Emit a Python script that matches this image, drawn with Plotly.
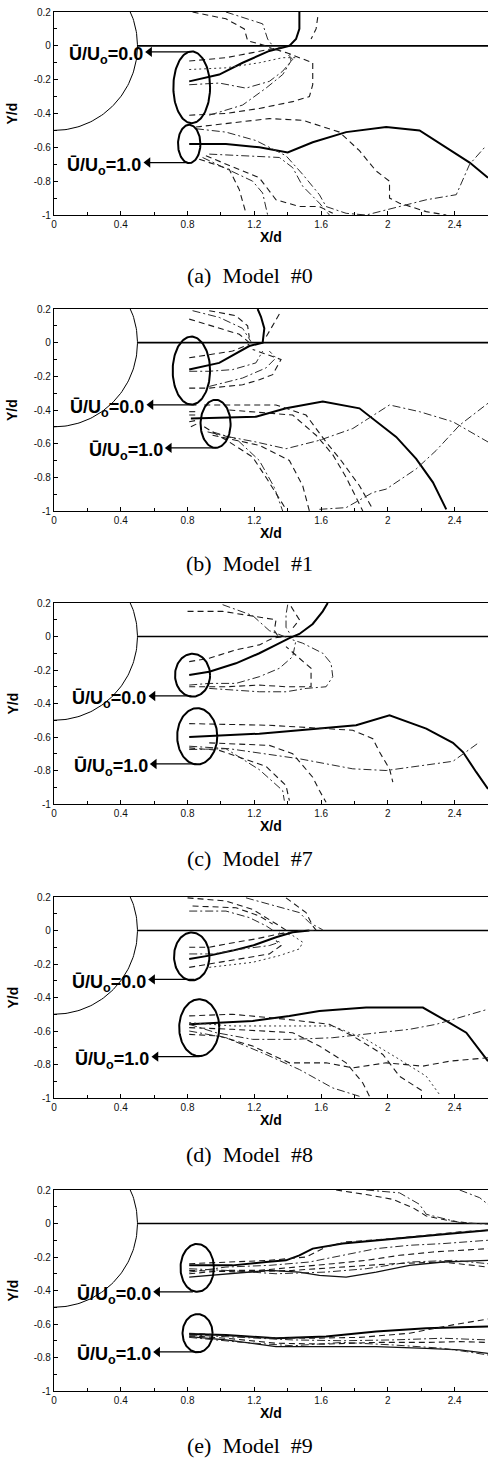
import numpy as np
import plotly.graph_objects as go

# ---------------- tick labels / captions ----------------
X_TICKS = [0, 0.4, 0.8, 1.2, 1.6, 2, 2.4]
X_TICK_LABELS = ["0", "0.4", "0.8", "1.2", "1.6", "2", "2.4"]
X_MINOR = [0.2, 0.6, 1.0, 1.4, 1.8, 2.2]
Y_TICKS = [-1, -0.8, -0.6, -0.4, -0.2, 0, 0.2]
Y_TICK_LABELS = ["-1", "-0.8", "-0.6", "-0.4", "-0.2", "0", "0.2"]
Y_MINOR = [-0.9, -0.7, -0.5, -0.3, -0.1, 0.1]
CAPTIONS = ["(a)\u00a0\u00a0Model\u00a0\u00a0#0", "(b)\u00a0\u00a0Model\u00a0\u00a0#1",
            "(c)\u00a0\u00a0Model\u00a0\u00a0#7", "(d)\u00a0\u00a0Model\u00a0\u00a0#8",
            "(e)\u00a0\u00a0Model\u00a0\u00a0#9"]
LABEL0 = "<b>\u016a/U<sub>o</sub>=0.0</b>"
LABEL1 = "<b>\u016a/U<sub>o</sub>=1.0</b>"

# cylinder radius / plate
CYL_R = 0.5
PLATE_X = [0.5, 2.6]

# ---------------- ellipse markers (centre, half-width, half-height) ----------------
E0_CX = [0.825, 0.823, 0.83, 0.825, 0.858]
E0_CY = [-0.245, -0.166, -0.231, -0.155, -0.265]
E0_HW = [0.11, 0.112, 0.105, 0.106, 0.10]
E0_HH = [0.212, 0.202, 0.128, 0.143, 0.143]
E1_CX = [0.81, 0.968, 0.858, 0.87, 0.86]
E1_CY = [-0.58, -0.482, -0.596, -0.58, -0.655]
E1_HW = [0.067, 0.09, 0.12, 0.12, 0.09]
E1_HH = [0.113, 0.143, 0.168, 0.17, 0.114]

# ---------------- arrows ----------------
ARROW0_Y = [-0.036, -0.369, -0.355, -0.292, -0.408]
ARROW0_TAIL = [0.81, 0.853, 0.823, 0.842, 0.832]
ARROW0_HEAD = [0.545, 0.553, 0.565, 0.563, 0.593]
ARROW1_Y = [-0.69, -0.625, -0.761, -0.753, -0.767]
ARROW1_TAIL = [0.80, 0.972, 0.853, 0.872, 0.872]
ARROW1_HEAD = [0.535, 0.663, 0.573, 0.583, 0.593]

# ---------------- streaklines, panel (a) Model #0 ----------------
A_X = [
    [0.81, 0.99, 1.13, 1.29, 1.41, 1.45, 1.47, 1.47],
    [0.81, 1.03, 1.23, 1.43, 1.53, 1.55, 1.55, 1.47, 1.39, 1.29],
    [0.81, 0.93, 1.03, 1.19, 1.29, 1.37],
    [0.81, 0.99, 1.15, 1.29, 1.37, 1.43, 1.39],
    [0.93, 1.13, 1.27, 1.37, 1.42, 1.41],
    [0.83, 1.03, 1.14, 1.16, 1.27],
    [1.03, 1.25, 1.28, 1.31],
    [1.58, 1.57, 1.54],
    [0.81, 1.03, 1.23, 1.37, 1.45],
    [0.81, 1.03, 1.23, 1.40, 1.55, 1.75, 1.99, 2.19, 2.49, 2.60],
    [0.85, 1.13, 1.29, 1.49, 1.71, 1.83, 1.93, 2.01, 2.01, 2.07, 2.23, 2.35],
    [0.85, 1.03, 1.21, 1.39, 1.49, 1.59, 1.63, 1.75, 1.87, 2.03, 2.23, 2.41, 2.49, 2.58],
    [0.87, 1.05, 1.11, 1.15],
    [0.89, 1.19, 1.25, 1.28],
    [0.91, 1.23, 1.33, 1.47, 1.59, 1.67],
    [0.93, 1.35, 1.43, 1.49, 1.59, 1.65],
]
A_Y = [
    [-0.21, -0.17, -0.10, -0.03, 0.0, 0.04, 0.10, 0.20],
    [-0.41, -0.40, -0.37, -0.33, -0.30, -0.23, -0.10, -0.07, -0.04, -0.01],
    [-0.09, -0.08, -0.07, -0.04, -0.02, -0.01],
    [-0.23, -0.22, -0.25, -0.21, -0.15, -0.08, -0.04],
    [-0.41, -0.35, -0.25, -0.17, -0.09, -0.03],
    [0.20, 0.16, 0.10, 0.03, 0.0],
    [0.20, 0.13, 0.04, 0.0],
    [0.17, 0.10, 0.04],
    [-0.14, -0.13, -0.10, -0.07, -0.07],
    [-0.58, -0.58, -0.60, -0.63, -0.57, -0.51, -0.48, -0.50, -0.69, -0.78],
    [-0.48, -0.45, -0.43, -0.44, -0.51, -0.62, -0.74, -0.80, -0.90, -0.93, -0.98, -1.0],
    [-0.49, -0.51, -0.56, -0.65, -0.76, -0.88, -0.95, -0.99, -1.0, -0.96, -0.91, -0.88, -0.70, -0.60],
    [-0.67, -0.73, -0.85, -0.99],
    [-0.66, -0.80, -0.87, -1.0],
    [-0.65, -0.78, -0.91, -0.95, -0.95, -0.99],
    [-0.64, -0.66, -0.72, -0.83, -0.93, -1.0],
]
A_KIND = ["solid", "dash", "dash", "dashdot", "dashdot", "dash", "dashdot", "dash", "dot",
          "solid", "dash", "dashdot", "dash", "dashdot", "dash", "dashdot"]

# ---------------- panel (b) Model #1 ----------------
B_X = [
    [0.81, 0.99, 1.17, 1.25, 1.26, 1.24, 1.22],
    [0.81, 0.93, 1.07, 1.21, 1.25],
    [0.81, 0.93, 1.13, 1.23, 1.31, 1.36, 1.19],
    [0.81, 0.93, 1.07, 1.17],
    [0.93, 1.13, 1.27, 1.33, 1.29],
    [0.81, 0.95, 1.11, 1.17],
    [0.83, 0.99, 1.13, 1.18],
    [1.35, 1.30, 1.26],
    [0.93, 1.09, 1.16, 1.17],
    [0.82, 1.21, 1.39, 1.61, 1.83, 1.91, 2.05, 2.17, 2.27, 2.35],
    [0.90, 1.03, 1.33, 1.51, 1.63, 1.72, 1.83, 1.91],
    [0.95, 1.05, 1.21, 1.39, 1.59, 1.79, 2.01, 2.19, 2.39, 2.60],
    [1.59, 1.75, 1.91, 1.99, 2.17, 2.29, 2.43, 2.60],
    [0.90, 1.05, 1.19, 1.27, 1.39],
    [0.92, 1.09, 1.23, 1.32, 1.37],
    [0.95, 1.23, 1.41, 1.49, 1.53],
    [1.05, 1.43, 1.57, 1.67, 1.75, 1.81, 1.85],
    [0.81, 0.86, None, 0.81, 0.87, None, 0.81, 0.86, None, 0.82, 0.86],
]
B_Y = [
    [-0.16, -0.12, -0.02, 0.0, 0.085, 0.154, 0.20],
    [-0.17, -0.17, -0.16, -0.12, -0.05],
    [-0.27, -0.27, -0.25, -0.22, -0.19, -0.10, -0.04],
    [-0.09, -0.07, -0.05, -0.01],
    [-0.26, -0.21, -0.15, -0.09, -0.05],
    [0.14, 0.10, 0.05, 0.0],
    [0.19, 0.15, 0.085, 0.006],
    [0.17, 0.085, 0.016],
    [0.19, 0.16, 0.10, 0.03],
    [-0.45, -0.44, -0.39, -0.35, -0.39, -0.45, -0.56, -0.69, -0.83, -0.99],
    [-0.37, -0.37, -0.37, -0.43, -0.59, -0.70, -0.85, -0.99],
    [-0.53, -0.56, -0.59, -0.63, -0.58, -0.51, -0.37, -0.41, -0.47, -0.59],
    [-0.99, -0.98, -0.89, -0.87, -0.75, -0.64, -0.49, -0.36],
    [-0.50, -0.59, -0.68, -0.80, -0.99],
    [-0.53, -0.57, -0.70, -0.86, -1.0],
    [-0.55, -0.61, -0.70, -0.85, -1.0],
    [-0.40, -0.43, -0.55, -0.665, -0.80, -0.92, -1.0],
    [-0.41, -0.41, None, -0.43, -0.43, None, -0.47, -0.46, None, -0.50, -0.48],
]
B_KIND = ["solid", "dashdot", "dash", "dash", "dashdot", "dash", "dashdot", "dash", "dash",
          "solid", "dash", "dashdot", "dashdot", "dash", "dashdot", "dash", "dash", "dash"]

# ---------------- panel (c) Model #7 ----------------
C_X = [
    [0.81, 0.93, 1.09, 1.23, 1.33, 1.41, 1.47, 1.55, 1.61, 1.64],
    [0.81, 0.93, 1.09, 1.23, 1.31, 1.39],
    [0.81, 0.93, 1.09, 1.23, 1.35, 1.43, 1.45],
    [0.81, 1.03, 1.23, 1.39, 1.54, 1.54, 1.47, 1.39],
    [0.93, 1.23, 1.39, 1.51, 1.63, 1.67, 1.66, 1.61, 1.49, 1.43],
    [0.80, 1.01, 1.33, 1.32, 1.34],
    [1.01, 1.19, 1.29, 1.39],
    [1.42, 1.47, 1.43],
    [1.40, 1.39, 1.39, 1.42],
    [0.81, 1.23, 1.59, 1.81, 2.01, 2.23, 2.39, 2.45, 2.53, 2.60],
    [0.81, 1.29, 1.63, 1.79, 1.91, 1.95, 2.01, 2.03],
    [0.81, 1.05, 1.47, 1.79, 1.99, 2.17, 2.39, 2.55],
    [0.81, 0.99, 1.27, 1.39, 1.41],
    [0.81, 1.03, 1.23, 1.37, 1.38],
    [0.93, 1.29, 1.43, 1.55, 1.59, 1.63],
]
C_Y = [
    [-0.23, -0.21, -0.16, -0.10, -0.05, -0.01, 0.015, 0.075, 0.15, 0.20],
    [-0.15, -0.13, -0.08, -0.05, -0.01, 0.0],
    [-0.29, -0.28, -0.28, -0.24, -0.19, -0.12, -0.02],
    [-0.30, -0.30, -0.29, -0.30, -0.30, -0.19, -0.13, -0.06],
    [-0.31, -0.33, -0.33, -0.31, -0.30, -0.24, -0.16, -0.10, -0.04, -0.02],
    [0.15, 0.15, 0.10, 0.035, 0.006],
    [0.19, 0.125, 0.035, -0.004],
    [0.18, 0.10, 0.05],
    [0.19, 0.13, 0.055, 0.006],
    [-0.60, -0.58, -0.55, -0.53, -0.47, -0.55, -0.635, -0.69, -0.81, -0.91],
    [-0.52, -0.53, -0.55, -0.56, -0.61, -0.69, -0.79, -0.87],
    [-0.655, -0.67, -0.73, -0.79, -0.80, -0.775, -0.745, -0.63],
    [-0.665, -0.68, -0.775, -0.89, -0.98],
    [-0.675, -0.67, -0.795, -0.92, -0.98],
    [-0.635, -0.65, -0.70, -0.84, -0.92, -0.99],
]
C_KIND = ["solid", "dash", "dashdot", "dash", "dashdot", "dash", "dashdot", "dash", "dashdot",
          "solid", "dash", "dashdot", "dash", "dashdot", "dash"]

# ---------------- panel (d) Model #8 ----------------
D_X = [
    [0.81, 0.93, 1.07, 1.19, 1.33, 1.43, 1.53],
    [0.81, 0.93, 1.09, 1.21, 1.35, 1.47, 1.57],
    [0.81, 0.95, 1.13, 1.29, 1.35, 1.33],
    [0.81, 0.93, 1.13, 1.29, 1.36, 1.33],
    [0.93, 1.19, 1.35, 1.47, 1.49, 1.43, 1.35],
    [0.80, 1.03, 1.19, 1.29, 1.35, 1.39],
    [0.81, 1.03, 1.17, 1.27, 1.31],
    [1.15, 1.33, 1.47, 1.53, 1.61],
    [1.39, 1.51, 1.55, 1.57],
    [0.83, 1.09, 1.23, 1.31],
    [0.81, 1.19, 1.41, 1.59, 1.87, 2.21, 2.35, 2.47, 2.60],
    [0.81, 1.07, 1.39, 1.65, 1.79, 1.97, 2.07, 2.21],
    [0.81, 0.97, 1.19, 1.43, 1.67, 1.87, 2.13, 2.29, 2.60],
    [0.81, 0.99, 1.19, 1.41, 1.63, 1.79, 1.99, 2.21, 2.37, 2.60],
    [0.81, 1.03, 1.27, 1.47, 1.67, 1.83],
    [0.81, 1.07, 1.43, 1.59, 1.75, 1.85, 1.89],
    [0.81, 1.07, 1.67, 1.87, 2.07, 2.23, 2.31],
]
D_Y = [
    [-0.17, -0.15, -0.12, -0.09, -0.04, -0.01, 0.0],
    [-0.10, -0.10, -0.07, -0.05, -0.02, 0.0, 0.0],
    [-0.14, -0.14, -0.11, -0.09, -0.07, -0.05],
    [-0.22, -0.20, -0.17, -0.14, -0.09, -0.06],
    [-0.22, -0.19, -0.15, -0.11, -0.07, -0.03, -0.01],
    [0.195, 0.176, 0.126, 0.067, 0.028, 0.002],
    [0.116, 0.116, 0.077, 0.028, 0.002],
    [0.195, 0.146, 0.107, 0.047, 0.004],
    [0.195, 0.107, 0.028, 0.002],
    [0.146, 0.136, 0.087, 0.038],
    [-0.56, -0.54, -0.51, -0.48, -0.46, -0.46, -0.54, -0.61, -0.78],
    [-0.51, -0.50, -0.53, -0.56, -0.63, -0.74, -0.87, -0.96],
    [-0.56, -0.61, -0.65, -0.65, -0.64, -0.62, -0.59, -0.56, -0.47],
    [-0.62, -0.63, -0.69, -0.79, -0.79, -0.82, -0.79, -0.81, -0.78, -0.76],
    [-0.60, -0.64, -0.74, -0.83, -0.94, -0.99],
    [-0.58, -0.59, -0.61, -0.69, -0.79, -0.91, -0.99],
    [-0.55, -0.57, -0.57, -0.65, -0.77, -0.87, -0.98],
]
D_KIND = ["solid", "dash", "dashdot", "dash", "dot", "dash", "dashdot", "dashdot", "dash", "dash",
          "solid", "dash", "dashdot", "dash", "dashdot", "dash", "dot"]

# ---------------- panel (e) Model #9 ----------------
E_X = [
    [0.81, 1.07, 1.27, 1.39, 1.47, 1.55, 1.73, 2.03, 2.27, 2.60],
    [0.81, 1.03, 1.29, 1.51, 1.63, 1.75, 2.03, 2.23, 2.43, 2.60],
    [0.81, 1.03, 1.29, 1.53, 1.73, 1.93, 2.13, 2.33, 2.60],
    [0.81, 1.03, 1.23, 1.47, 1.67, 1.87, 2.07, 2.27, 2.60],
    [0.81, 1.03, 1.29, 1.47, 1.59, 1.75, 1.93, 2.13, 2.33, 2.60],
    [0.81, 1.03, 1.33, 1.63, 1.87, 2.13, 2.39, 2.60],
    [0.81, 1.13, 1.43, 1.73, 2.03, 2.33, 2.60],
    [1.69, 1.87, 2.03, 2.15, 2.23, 2.37, 2.51, 2.60],
    [1.87, 2.07, 2.19, 2.23, 2.43, 2.60],
    [2.43, 2.55, 2.60],
    [0.81, 1.03, 1.33, 1.63, 1.93, 2.23, 2.43, 2.60],
    [0.81, 1.03, 1.23, 1.53, 1.83, 2.13, 2.39, 2.60],
    [0.81, 1.13, 1.43, 1.73, 2.03, 2.33, 2.60],
    [0.81, 1.03, 1.33, 1.63, 1.93, 2.23, 2.43, 2.60],
    [0.81, 1.03, 1.33, 1.63, 1.93, 2.23, 2.43, 2.60],
    [0.81, 1.13, 1.43, 1.73, 2.03, 2.33, 2.47, 2.60],
]
E_Y = [
    [-0.25, -0.25, -0.23, -0.22, -0.19, -0.15, -0.12, -0.09, -0.07, -0.04],
    [-0.24, -0.23, -0.22, -0.20, -0.14, -0.11, -0.09, -0.07, -0.05, -0.04],
    [-0.29, -0.26, -0.25, -0.23, -0.19, -0.15, -0.13, -0.12, -0.10],
    [-0.30, -0.28, -0.28, -0.26, -0.24, -0.22, -0.19, -0.17, -0.15],
    [-0.32, -0.30, -0.28, -0.29, -0.31, -0.32, -0.29, -0.25, -0.23, -0.22],
    [-0.27, -0.28, -0.30, -0.29, -0.27, -0.23, -0.22, -0.24],
    [-0.28, -0.29, -0.28, -0.26, -0.24, -0.23, -0.26],
    [0.20, 0.173, 0.144, 0.094, 0.045, 0.016, 0.0, 0.0],
    [0.20, 0.183, 0.114, 0.055, 0.006, -0.004],
    [0.20, 0.154, 0.114],
    [-0.66, -0.665, -0.685, -0.675, -0.645, -0.625, -0.62, -0.615],
    [-0.655, -0.67, -0.68, -0.685, -0.68, -0.655, -0.605, -0.57],
    [-0.665, -0.68, -0.695, -0.70, -0.695, -0.685, -0.695],
    [-0.67, -0.685, -0.715, -0.72, -0.71, -0.71, -0.705, -0.71],
    [-0.675, -0.695, -0.735, -0.735, -0.735, -0.745, -0.755, -0.775],
    [-0.68, -0.71, -0.73, -0.71, -0.725, -0.745, -0.765, -0.785],
]
E_KIND = ["solid", "dash", "dashdot", "dash", "thin", "dashdot", "dash", "dash", "dashdot", "dashdot",
          "solid", "dash", "dashdot", "dash", "thin", "dashdot"]

PANELS = [(A_X, A_Y, A_KIND), (B_X, B_Y, B_KIND), (C_X, C_Y, C_KIND),
          (D_X, D_Y, D_KIND), (E_X, E_Y, E_KIND)]

# ---------------- styling / layout ----------------
W, H = 488, 1458
PLOT_LEFT = 54
PLOT_TOP_PX = [12, 309, 603, 897, 1190]
PLOT_BOT_PX = [215, 511, 804, 1098, 1391]
CAPTION_PX = [275, 563, 858, 1154, 1445]

STYLE = {
    "solid": dict(color="black", width=2.0),
    "thin": dict(color="#111111", width=1.3),
    "dash": dict(color="#1a1a1a", width=1.1, dash="6px,4px"),
    "dashdot": dict(color="#2a2a2a", width=1.0, dash="8px,3px,2px,3px"),
    "dot": dict(color="#333333", width=1.0, dash="2px,3px"),
}

fig = go.Figure()
annotations = []
tick_font = dict(family="Liberation Sans", size=10, color="#111111")

for i, (PX, PY, KIND) in enumerate(PANELS):
    n = "" if i == 0 else str(i + 1)
    xr, yr = "x" + n, "y" + n

    # cylinder arc
    th = np.linspace(-np.pi / 2, np.pi / 2, 120)
    fig.add_trace(go.Scatter(x=CYL_R * np.cos(th), y=CYL_R * np.sin(th), mode="lines",
                             line=dict(color="black", width=1.0), xaxis=xr, yaxis=yr,
                             showlegend=False, hoverinfo="skip"))
    # splitter plate
    fig.add_trace(go.Scatter(x=PLATE_X, y=[0, 0], mode="lines",
                             line=dict(color="black", width=1.6), xaxis=xr, yaxis=yr,
                             showlegend=False, hoverinfo="skip"))
    # streaklines
    for xs, ys, k in zip(PX, PY, KIND):
        fig.add_trace(go.Scatter(x=xs, y=ys, mode="lines", line=STYLE[k],
                                 xaxis=xr, yaxis=yr, showlegend=False, hoverinfo="skip"))
    # ellipses
    t = np.linspace(0, 2 * np.pi, 120)
    for cx, cy, hw, hh in [(E0_CX[i], E0_CY[i], E0_HW[i], E0_HH[i]),
                           (E1_CX[i], E1_CY[i], E1_HW[i], E1_HH[i])]:
        fig.add_trace(go.Scatter(x=cx + hw * np.cos(t), y=cy + hh * np.sin(t), mode="lines",
                                 line=dict(color="black", width=2.0), xaxis=xr, yaxis=yr,
                                 showlegend=False, hoverinfo="skip"))

    top = 1 - PLOT_TOP_PX[i] / H
    bot = 1 - PLOT_BOT_PX[i] / H
    xa = dict(domain=[PLOT_LEFT / W, 1], range=[0, 2.6], anchor=yr,
              tickmode="array", tickvals=X_TICKS, ticktext=X_TICK_LABELS,
              ticks="inside", ticklen=4, tickwidth=1, tickcolor="black",
              minor=dict(tickvals=X_MINOR, ticks="inside", ticklen=3, tickcolor="black"),
              showline=True, mirror=True, linecolor="black", linewidth=1.4,
              showgrid=False, zeroline=False, tickfont=tick_font, automargin=False)
    ya = dict(domain=[bot, top], range=[-1, 0.2], anchor=xr,
              tickmode="array", tickvals=Y_TICKS, ticktext=Y_TICK_LABELS,
              ticks="inside", ticklen=4, tickwidth=1, tickcolor="black",
              minor=dict(tickvals=Y_MINOR, ticks="inside", ticklen=3, tickcolor="black"),
              showline=True, linecolor="black", linewidth=1.2,
              showgrid=False, zeroline=False, tickfont=tick_font, automargin=False)
    fig.update_layout(**{"xaxis" + n: xa, "yaxis" + n: ya})

    # arrows (line + filled head) and labels
    for hy, tail, head, lab in [(ARROW0_Y[i], ARROW0_TAIL[i], ARROW0_HEAD[i], LABEL0),
                                (ARROW1_Y[i], ARROW1_TAIL[i], ARROW1_HEAD[i], LABEL1)]:
        fig.add_trace(go.Scatter(x=[tail, head + 0.02], y=[hy, hy], mode="lines",
                                 line=dict(color="black", width=1.3), xaxis=xr, yaxis=yr,
                                 showlegend=False, hoverinfo="skip", cliponaxis=False))
        fig.add_trace(go.Scatter(x=[head + 0.028], y=[hy], mode="markers",
                                 marker=dict(symbol="triangle-left", size=9, color="black",
                                             line=dict(width=0)),
                                 xaxis=xr, yaxis=yr, showlegend=False, hoverinfo="skip",
                                 cliponaxis=False))
        annotations.append(dict(x=head, y=hy - 0.022, xref=xr, yref=yr,
                                text=lab, showarrow=False, xanchor="right", yanchor="middle",
                                font=dict(family="Liberation Sans", size=18, color="black")))

    # axis titles
    annotations.append(dict(x=(PLOT_LEFT + W) / 2 / W, y=1 - (PLOT_BOT_PX[i] + 22) / H,
                            xref="paper", yref="paper", text="<b>X/d</b>", showarrow=False,
                            xanchor="center", yanchor="middle",
                            font=dict(family="Liberation Sans", size=14, color="black")))
    annotations.append(dict(x=12 / W, y=(top + bot) / 2, xref="paper", yref="paper",
                            text="<b>Y/d</b>", showarrow=False, textangle=-90,
                            xanchor="center", yanchor="middle",
                            font=dict(family="Liberation Sans", size=14, color="black")))
    # caption
    annotations.append(dict(x=250 / W, y=1 - CAPTION_PX[i] / H, xref="paper", yref="paper",
                            text=CAPTIONS[i], showarrow=False, xanchor="center",
                            yanchor="middle",
                            font=dict(family="Liberation Serif", size=22, color="black")))

fig.update_layout(width=W, height=H, margin=dict(l=0, r=0, t=0, b=0),
                  paper_bgcolor="white", plot_bgcolor="white",
                  annotations=annotations, showlegend=False)

fig.write_html("out.html", config={"displayModeBar": False},
               post_script="document.body.style.margin='0';")
